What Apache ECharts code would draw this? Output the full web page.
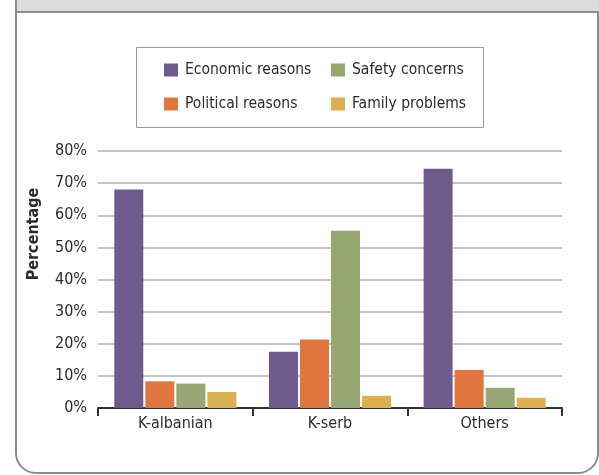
<!DOCTYPE html>
<html>
<head>
<meta charset="utf-8">
<script src="https://cdn.jsdelivr.net/npm/echarts@6/dist/echarts.min.js"></script>
<style>
    html, body { margin: 0; padding: 0; background: #fff; }
    #chart { width: 599px; height: 475px; }
</style>
</head>
<body>
<div id="chart"></div>
<script>
// data
const groups = ['K-albanian', 'K-serb', 'Others'];
const economic = [68, 17.5, 74.5];
const political = [8.3, 21.3, 11.8];
const safety = [7.6, 55.2, 6.3];
const family = [5, 3.8, 3.2];
const yTicks = [0, 80, 10]; // min, max, step

const font = "'Liberation Sans Narrow', 'DejaVu Sans Condensed', Roboto, sans-serif";
const colors = ['#6e5b8c', '#e07540', '#97a673', '#dbb050'];

const chart = echarts.init(document.getElementById('chart'));

const legendCommon = {
    orient: 'vertical',
    top: 62,
    padding: 0,
    icon: 'rect',
    itemWidth: 14,
    itemHeight: 13,
    itemGap: 18,
    selectedMode: false,
    textStyle: { fontFamily: font, fontSize: 15.5, color: '#2b2b2b', padding: [0, 0, 0, 2] }
};

const option = {
    animation: false,
    color: colors,
    textStyle: { fontFamily: font },
    // two columns of legend
    legend: [
        Object.assign({ left: 164, data: ['Economic reasons', 'Political reasons'] }, legendCommon),
        Object.assign({ left: 331, data: ['Safety concerns', 'Family problems'] }, legendCommon)
    ],
    grid: { left: 98, right: 37, top: 151, bottom: 67 },
    xAxis: {
        type: 'category',
        data: groups,
        axisLine: { lineStyle: { color: '#333', width: 2 } },
        axisTick: { show: true, interval: 0, length: 8, lineStyle: { color: '#333', width: 2 } },
        axisLabel: { fontSize: 16, color: '#2b2b2b', margin: 8 }
    },
    yAxis: {
        type: 'value',
        min: yTicks[0],
        max: yTicks[1],
        interval: yTicks[2],
        axisLine: { show: false },
        axisTick: { show: false },
        axisLabel: { formatter: '{value}%', fontSize: 16, color: '#2b2b2b', margin: 11 },
        splitLine: { lineStyle: { color: '#c4c4c7', width: 2 } }
    },
    series: [
        { name: 'Economic reasons', type: 'bar', data: economic, barWidth: 29, barGap: '7%' },
        { name: 'Political reasons', type: 'bar', data: political, barWidth: 29, barGap: '7%' },
        { name: 'Safety concerns', type: 'bar', data: safety, barWidth: 29, barGap: '7%' },
        { name: 'Family problems', type: 'bar', data: family, barWidth: 29, barGap: '7%' }
    ],
    graphic: [
        // outer frame with rounded bottom corners
        { type: 'rect', shape: { x: 16, y: -30, width: 582, height: 503, r: [0, 0, 20, 20] },
          style: { fill: 'none', stroke: '#8c8c8c', lineWidth: 2 }, z: 0 },
        // grey header band
        { type: 'rect', shape: { x: 17, y: 0, width: 582, height: 11 }, style: { fill: '#dcdcde' } },
        { type: 'line', shape: { x1: 16, y1: 12, x2: 599, y2: 12 }, style: { stroke: '#8f8f8f', lineWidth: 2 } },
        // legend box
        { type: 'rect', shape: { x: 136.5, y: 47.5, width: 347, height: 80 },
          style: { fill: 'none', stroke: '#9a9a9a', lineWidth: 1 } },
        // y axis title
        { type: 'text', x: 34, y: 234, rotation: Math.PI / 2,
          style: { text: 'Percentage', font: 'bold 16px ' + font, fill: '#2b2b2b', align: 'center', verticalAlign: 'middle' } }
    ]
};

chart.setOption(option);
</script>
</body>
</html>
